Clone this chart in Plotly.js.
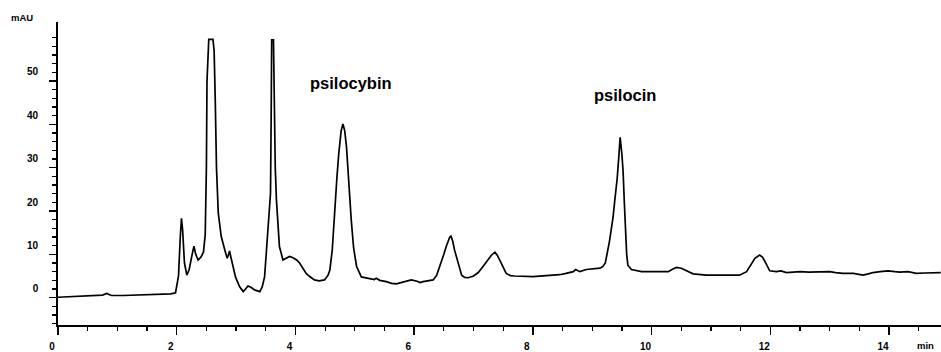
<!DOCTYPE html>
<html>
<head>
<meta charset="utf-8">
<script src="https://cdn.plot.ly/plotly-3.0.1.min.js"></script>
<style>html,body{margin:0;padding:0;background:#fff;}#chart{width:941px;height:352px;}</style>
</head>
<body>
<div id="chart"></div>
<script>
// Retention time (min)
const timeMin = [
  0.00,0.20,0.40,0.60,0.75,0.82,0.90,1.10,1.40,1.70,1.90,1.98,2.03,2.06,2.08,2.10,2.13,2.17,2.21,2.26,
  2.29,2.32,2.36,2.41,2.45,2.48,2.50,2.51,2.53,2.54,2.61,2.63,2.65,2.67,2.70,2.75,2.81,2.85,2.87,2.89,
  2.91,2.93,2.99,3.06,3.12,3.16,3.20,3.25,3.31,3.40,3.44,3.48,3.52,3.56,3.58,3.59,3.60,3.63,3.645,3.66,
  3.68,3.70,3.73,3.79,3.84,3.90,3.96,4.02,4.07,4.13,4.18,4.23,4.32,4.40,4.49,4.55,4.58,4.62,4.66,4.70,
  4.73,4.77,4.80,4.83,4.86,4.90,4.94,4.98,5.03,5.11,5.25,5.33,5.36,5.42,5.53,5.62,5.70,5.80,5.90,5.95,
  6.05,6.10,6.15,6.32,6.38,6.43,6.50,6.54,6.60,6.62,6.65,6.68,6.71,6.77,6.80,6.85,6.91,7.00,7.08,7.15,
  7.22,7.30,7.36,7.40,7.44,7.50,7.55,7.62,7.69,8.00,8.20,8.34,8.45,8.56,8.68,8.72,8.76,8.79,8.90,9.00,
  9.13,9.18,9.22,9.29,9.35,9.38,9.42,9.45,9.47,9.50,9.52,9.54,9.56,9.58,9.60,9.66,9.83,10.14,10.28,10.36,
  10.42,10.50,10.56,10.70,10.92,11.15,11.48,11.60,11.67,11.74,11.82,11.87,11.91,11.99,12.10,12.18,12.27,12.40,12.50,12.65,
  12.80,13.00,13.10,13.22,13.40,13.56,13.65,13.73,13.85,13.98,14.10,14.18,14.32,14.46,14.60,14.75,14.87
];
// Absorbance (mAU)
const absorbance = [
  0.1,0.2,0.3,0.4,0.6,1.0,0.5,0.5,0.7,0.8,0.9,1.15,5.0,14.0,18.3,15.5,8.0,5.2,6.5,10.0,
  11.9,10.0,8.7,9.4,10.5,14.5,30.0,50.0,57.5,59.6,59.6,57.0,45.0,30.0,19.5,14.1,11.0,9.1,9.8,10.8,
  9.5,8.2,4.8,2.5,1.4,2.0,2.7,2.4,1.8,1.4,2.5,4.8,12.0,20.6,24.1,40.0,59.5,59.5,40.0,30.0,
  22.5,17.0,11.8,8.7,9.0,9.5,9.2,8.7,8.0,6.8,5.6,5.0,4.1,3.9,4.1,5.2,6.4,11.0,20.2,28.0,
  33.3,38.5,40.1,38.5,34.8,26.0,17.9,11.5,7.2,4.8,4.5,4.2,4.5,4.0,3.7,3.3,3.2,3.5,3.9,4.1,
  3.8,3.5,3.7,4.1,5.2,7.0,10.0,11.8,14.0,14.2,13.0,11.0,9.5,6.4,5.2,4.7,4.6,5.0,5.8,7.0,
  8.3,9.8,10.5,9.8,8.7,6.8,5.6,5.1,5.0,4.85,5.0,5.2,5.3,5.6,6.0,6.5,6.3,6.0,6.5,6.6,
  6.8,7.2,8.0,13.0,18.5,22.5,27.5,33.0,37.0,33.0,29.0,22.0,15.6,10.0,7.5,6.5,6.0,5.9,6.0,6.6,
  7.0,6.8,6.4,5.5,5.2,5.2,5.2,6.0,7.5,9.1,9.85,9.3,8.3,6.2,6.0,6.2,5.8,5.9,6.0,5.9,
  5.9,6.0,5.8,5.6,5.6,5.2,5.5,5.8,6.0,6.2,6.0,5.9,6.0,5.6,5.7,5.8,5.8
];

const xTickVals = [0, 2, 4, 6, 8, 10, 12, 14];
const xTickText = ['0', '2', '4', '6', '8', '10', '12', '14'];
const yTickVals = [0, 10, 20, 30, 40, 50];
const yTickText = ['0', '10', '20', '30', '40', '50'];
const peakLabels = ['psilocybin', 'psilocin'];
const peakLabelTime = [4.94, 9.55];
const peakLabelMAU = [49.5, 46.8];

const xMinor = [];
for (let t = 0; t <= 14.9; t += 0.5) xMinor.push(+t.toFixed(2));
const yMinor = [];
for (let v = -6; v <= 60; v += 2) yMinor.push(v);

const FONT = 'Liberation Sans, Arial, Helvetica, sans-serif';

const trace = {
  x: timeMin, y: absorbance, type: 'scatter', mode: 'lines',
  line: {color: '#000', width: 1.7, shape: 'linear'},
  hoverinfo: 'skip'
};

const annotations = peakLabels.map((txt, i) => ({
  text: txt, x: peakLabelTime[i], y: peakLabelMAU[i], xref: 'x', yref: 'y',
  xanchor: 'center', yanchor: 'middle', showarrow: false,
  font: {family: FONT, size: 16.5, color: '#000', weight: 'bold'}
}));
annotations.push({
  text: 'mAU', xref: 'paper', yref: 'paper', x: -0.0413, y: 1.015,
  xanchor: 'center', yanchor: 'middle', showarrow: false,
  font: {family: FONT, size: 9.5, color: '#000', weight: 'bold'}
});
annotations.push({
  text: 'min', xref: 'paper', yref: 'paper', x: 0.9824, y: -0.068,
  xanchor: 'center', yanchor: 'middle', showarrow: false,
  font: {family: FONT, size: 9.5, color: '#000', weight: 'bold'}
});

const layout = {
  width: 941, height: 352,
  margin: {l: 58, r: 0, t: 22, b: 27, pad: 0},
  paper_bgcolor: '#fff', plot_bgcolor: '#fff',
  showlegend: false,
  font: {family: FONT, color: '#000'},
  xaxis: {
    range: [0, 14.875], showline: true, linecolor: '#000', linewidth: 1.5,
    showgrid: false, zeroline: false, fixedrange: true,
    ticks: 'outside', ticklen: 8, tickwidth: 1.5, tickcolor: '#000',
    tickmode: 'array', tickvals: xTickVals, ticktext: xTickText,
    ticklabelshift: -6, ticklabelstandoff: 3,
    tickfont: {family: FONT, size: 10, color: '#000', weight: 'bold'},
    minor: {tickmode: 'array', tickvals: xMinor, ticks: 'outside', ticklen: 4, tickwidth: 1.2, tickcolor: '#000', showgrid: false}
  },
  yaxis: {
    range: [-6.3, 63.6], showline: true, linecolor: '#000', linewidth: 1.8,
    showgrid: false, zeroline: false, fixedrange: true,
    ticks: 'outside', ticklen: 7, tickwidth: 1.5, tickcolor: '#000',
    tickmode: 'array', tickvals: yTickVals, ticktext: yTickText,
    ticklabelshift: -9, ticklabelstandoff: 9,
    tickfont: {family: FONT, size: 10, color: '#000', weight: 'bold'},
    minor: {tickmode: 'array', tickvals: yMinor, ticks: 'outside', ticklen: 4, tickwidth: 1.2, tickcolor: '#000', showgrid: false}
  },
  annotations: annotations
};

Plotly.newPlot('chart', [trace], layout, {displayModeBar: false, staticPlot: true});
</script>
</body>
</html>
